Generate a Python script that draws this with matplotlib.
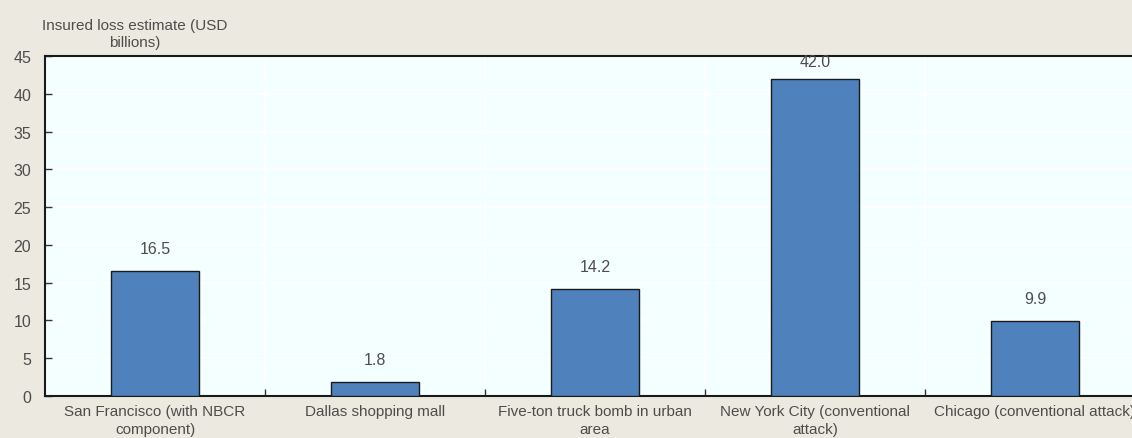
import matplotlib
matplotlib.use("Agg")
import matplotlib.pyplot as plt
from matplotlib import font_manager

categories = ["San Francisco (with NBCR\ncomponent)", "Dallas shopping mall",
              "Five-ton truck bomb in urban\narea", "New York City (conventional\nattack)",
              "Chicago (conventional attack)"]
values = [16.5, 1.8, 14.2, 42.0, 9.9]
yticks = [0, 5, 10, 15, 20, 25, 30, 35, 40, 45]

names = {f.name for f in font_manager.fontManager.ttflist}
fam = "Liberation Sans Narrow" if "Liberation Sans Narrow" in names else "Liberation Sans"
plt.rcParams['font.family'] = [fam, 'DejaVu Sans']
tc = "#4d4d4d"

W, H = 1132, 439
fig = plt.figure(figsize=(W/100, H/100), dpi=100, facecolor="#ECE9E0")
ax = fig.add_axes([45/W, 1-397/H, (W-45)/W, 340/H])
ax.set_facecolor("#F4FFFF")

x = list(range(len(categories)))
bars = ax.bar(x, values, width=0.4, color="#4F81BD", edgecolor="#1a1a1a", linewidth=1, zorder=3)
for xi, v in zip(x, values):
    ax.text(xi, min(v + 2.0, 43.3), f"{v:.1f}", ha="center", va="bottom", fontsize=11.5,
            color=tc, zorder=4)

ax.set_ylim(0, 45)
ax.set_xlim(-0.5, 4.5 - 13/220)
ax.set_yticks(yticks)
ax.set_yticklabels([str(t) for t in yticks], fontsize=11.5, color=tc)
bounds = [i + 0.5 for i in range(len(categories) - 1)]
ax.set_xticks(bounds)
ax.set_xticklabels([])
ax.set_xticks(x, minor=True)
ax.set_xticklabels(categories, minor=True, fontsize=11, color=tc, linespacing=1.3)
ax.tick_params(axis="x", which="minor", length=0, pad=6)
ax.tick_params(axis="x", which="major", direction="in", length=5, width=1, color="#333333")
ax.tick_params(axis="y", direction="in", length=5, width=1, color="#333333", pad=10)
ax.grid(True, which="major", axis="both", color="white", linewidth=1.2, zorder=0)

for s in ["top", "left", "bottom"]:
    ax.spines[s].set_color("#1a1a1a")
    ax.spines[s].set_linewidth(1.5)
ax.spines["right"].set_visible(False)

fig.text(135/W, 1-19/H, "Insured loss estimate (USD\nbillions)", ha="center", va="top",
         fontsize=11, color=tc, linespacing=1.25)

fig.savefig("out.png", dpi=100, facecolor=fig.get_facecolor())
